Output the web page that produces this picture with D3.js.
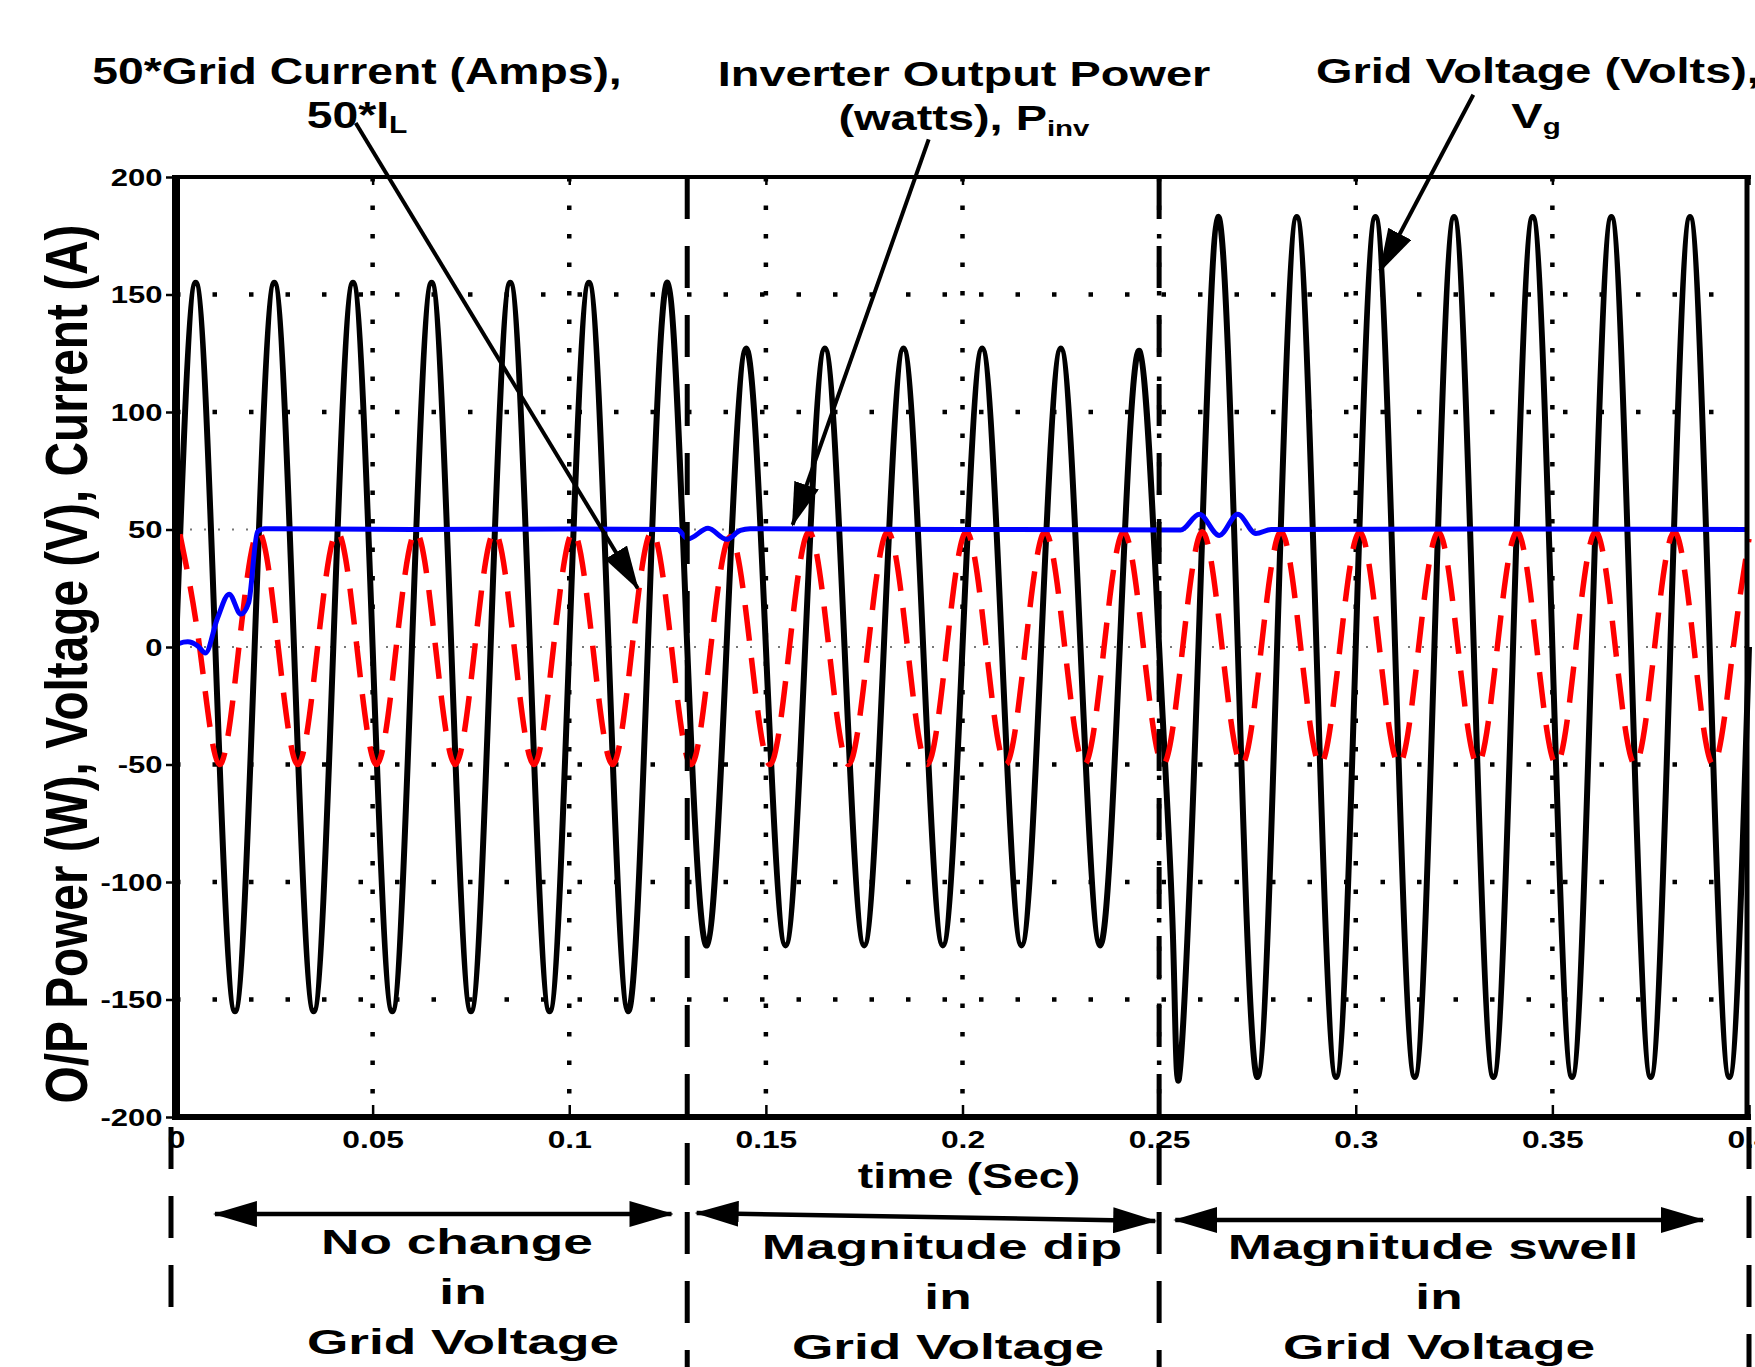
<!DOCTYPE html>
<html lang="en">
<head>
<meta charset="utf-8">
<script src="https://d3js.org/d3.v7.min.js"></script>
<style>
  *{margin:0;padding:0}
  body{background:#fff;width:1755px;height:1367px;overflow:hidden}
  svg{display:block;font-family:"Liberation Sans",Arial,sans-serif;font-weight:bold}
</style>
</head>
<body>
<script>
// axis ticks
const timeTicks=[0,0.05,0.1,0.15,0.2,0.25,0.3,0.35,0.4];
const valueTicks=[-200,-150,-100,-50,0,50,100,150,200];

// instants where the grid voltage changes (and the plot edges)
const eventTimes=[0,0.13,0.25,0.4];
const regionLabels=[
  ["No change","in","Grid Voltage"],
  ["Magnitude dip","in","Grid Voltage"],
  ["Magnitude swell","in","Grid Voltage"]
];

// grid voltage Vg (V) : [time s, value]  -- peaks, zero crossings, troughs
const gridVoltage=[
  [0,0],[0.005,155],[0.01,0],[0.015,-155],[0.02,0],[0.025,155],[0.03,0],[0.035,-155],
  [0.04,0],[0.045,155],[0.05,0],[0.055,-155],[0.06,0],[0.065,155],[0.07,0],[0.075,-155],
  [0.08,0],[0.085,155],[0.09,0],[0.095,-155],[0.1,0],[0.105,155],[0.11,0],[0.115,-155],
  [0.12,0],[0.125,155],
  [0.13,0],[0.135,-127],[0.14,0],[0.145,127],[0.15,0],[0.155,-127],[0.16,0],[0.165,127],
  [0.17,0],[0.175,-127],[0.18,0],[0.185,127],[0.19,0],[0.195,-127],[0.2,0],[0.205,127],
  [0.21,0],[0.215,-127],[0.22,0],[0.225,127],[0.23,0],[0.235,-127],[0.24,0],[0.245,126],
  [0.25,0],[0.2535,-122],[0.2553,-180],[0.26,0],[0.265,183],[0.27,0],[0.275,-183],
  [0.28,0],[0.285,183],[0.29,0],[0.295,-183],[0.3,0],[0.305,183],[0.31,0],[0.315,-183],
  [0.32,0],[0.325,183],[0.33,0],[0.335,-183],[0.34,0],[0.345,183],[0.35,0],[0.355,-183],
  [0.36,0],[0.365,183],[0.37,0],[0.375,-183],[0.38,0],[0.385,183],[0.39,0],[0.395,-183],
  [0.4,0]
];

// 50*grid current (A)
const currentStart=[[0,0],[0,46],[0.001,48]];
const gridCurrent50=[
  [0.001,48],[0.006,0],[0.011,-50],[0.016,0],[0.021,49],[0.026,0],[0.031,-50],[0.036,0],
  [0.041,49],[0.046,0],[0.051,-50],[0.056,0],[0.061,49],[0.066,0],[0.071,-50],[0.076,0],
  [0.081,49],[0.086,0],[0.091,-50],[0.096,0],[0.101,49],[0.106,0],[0.111,-50],[0.116,0],
  [0.121,49],[0.126,0],[0.131,-50],[0.136,0],[0.141,47],[0.146,0],[0.151,-50],[0.156,0],
  [0.161,49],[0.166,0],[0.171,-50],[0.176,0],[0.181,49],[0.186,0],[0.191,-50],[0.196,0],
  [0.201,49],[0.206,0],[0.211,-50],[0.216,0],[0.221,49],[0.226,0],[0.231,-50],[0.236,0],
  [0.241,49],[0.246,0],[0.251,-50],[0.256,0],[0.261,49],[0.266,0],[0.271,-50],[0.276,0],
  [0.281,49],[0.286,0],[0.291,-50],[0.296,0],[0.301,49],[0.306,0],[0.311,-50],[0.316,0],
  [0.321,49],[0.326,0],[0.331,-50],[0.336,0],[0.341,49],[0.346,0],[0.351,-50],[0.356,0],
  [0.361,49],[0.366,0],[0.371,-50],[0.376,0],[0.381,49],[0.386,0],[0.391,-50],[0.396,0],
  [0.4,46]
];

// inverter output power (W)
const inverterPower=[
  [0,0],[0.0008,1.5],[0.003,2.2],[0.0055,0.5],[0.0075,-2.5],[0.0105,12],[0.0135,22.5],
  [0.0165,14],[0.0185,19],[0.0207,49],[0.0225,50.3],[0.06,50],[0.1,50.2],[0.1275,50],
  [0.1302,46],[0.1353,50.5],[0.14,45.8],[0.1435,49.6],[0.146,50.3],[0.2,50],[0.2555,49.8],
  [0.2602,56.5],[0.2653,47.5],[0.27,56.5],[0.2746,48.3],[0.2785,50],[0.33,50.2],[0.4,50]
];

// callout arrows, in data units: [from, to]
const callouts=[
  [[0.0457,223],[0.1174,25]],
  [[0.1914,216],[0.1568,52]],
  [[0.3299,235],[0.3062,160]]
];

const width=1755, height=1367;
const margin={top:177,right:6,bottom:250,left:176};

const x=d3.scaleLinear().domain([0,0.4]).range([margin.left,width-margin.right]);
const y=d3.scaleLinear().domain([-200,200]).range([height-margin.bottom,margin.top]);

const svg=d3.select('body').append('svg')
  .attr('width',width).attr('height',height);

svg.append('defs').append('marker')
  .attr('id','head')
  .attr('markerUnits','userSpaceOnUse')
  .attr('viewBox','0 0 44 26')
  .attr('markerWidth',44).attr('markerHeight',26)
  .attr('refX',42).attr('refY',13)
  .attr('orient','auto-start-reverse')
  .append('path').attr('d','M0,0L44,13L0,26Z').attr('fill','#000');

// dotted grid
const grid=svg.append('g');
grid.selectAll('line.h')
  .data(valueTicks.filter(v=>v>-200&&v<200))
  .join('line').attr('class','h')
  .attr('x1',x(0)).attr('x2',x(0.4))
  .attr('y1',d=>y(d)).attr('y2',d=>y(d))
  .attr('stroke',d=>(d===0||d===50)?'#777':'#000')
  .attr('stroke-width',d=>(d===0||d===50)?2:4.5)
  .attr('stroke-dasharray',d=>(d===0||d===50)?'2,12':'4.5,32');
grid.selectAll('line.v')
  .data(timeTicks.filter(t=>t>0&&t<0.4))
  .join('line').attr('class','v')
  .attr('x1',d=>x(d)).attr('x2',d=>x(d))
  .attr('y1',y(200)).attr('y2',y(-200))
  .attr('stroke','#000').attr('stroke-width',4.5)
  .attr('stroke-dasharray','4.5,24');

const line=d3.line().x(d=>x(d[0])).y(d=>y(d[1]));

svg.append('path').datum(gridVoltage)
  .attr('d',line.curve(d3.curveNatural))
  .attr('fill','none').attr('stroke','#000').attr('stroke-width',6);

svg.append('path').datum(currentStart)
  .attr('d',line.curve(d3.curveLinear))
  .attr('fill','none').attr('stroke','#ff0000').attr('stroke-width',5.5)
  .attr('stroke-dasharray','36,17');
svg.append('path').datum(gridCurrent50)
  .attr('d',line.curve(d3.curveNatural))
  .attr('fill','none').attr('stroke','#ff0000').attr('stroke-width',5.5)
  .attr('stroke-dasharray','36,17');

svg.append('path').datum(inverterPower)
  .attr('d',line.curve(d3.curveMonotoneX))
  .attr('fill','none').attr('stroke','#0000ff').attr('stroke-width',5);

// dashed event lines
svg.selectAll('line.event')
  .data(eventTimes)
  .join('line').attr('class','event')
  .attr('x1',(d,i)=>i===0?x(d)-5:x(d)).attr('x2',(d,i)=>i===0?x(d)-5:x(d))
  .attr('y1',(d,i)=>(i===0||i===3)?y(-200)+10:y(200))
  .attr('y2',(d,i)=>i===0?1310:height)
  .attr('stroke','#000').attr('stroke-width',5)
  .attr('stroke-dasharray','42,27');

// plot box
const box=svg.append('g').attr('stroke','#000');
box.append('line').attr('x1',x(0)).attr('x2',x(0.4)+2).attr('y1',y(200)).attr('y2',y(200)).attr('stroke-width',4);
box.append('line').attr('x1',x(0)).attr('x2',x(0.4)+2).attr('y1',y(-200)).attr('y2',y(-200)).attr('stroke-width',6);
box.append('line').attr('x1',x(0)).attr('x2',x(0)).attr('y1',y(200)-2).attr('y2',y(-200)+3).attr('stroke-width',8);
box.append('line').attr('x1',x(0.4)-2).attr('x2',x(0.4)-2).attr('y1',y(200)-2).attr('y2',y(-200)+3).attr('stroke-width',5);

// axes
const styleAxis=g=>g.attr('font-family','"Liberation Sans",Arial,sans-serif')
  .attr('font-size',23).attr('font-weight','bold')
  .call(g=>g.select('.domain').remove())
  .call(g=>g.selectAll('line').attr('stroke','#000').attr('stroke-width',2.5));

svg.append('g')
  .attr('transform',`translate(0,${y(-200)})`)
  .call(d3.axisBottom(x).tickValues(timeTicks).tickFormat(d=>String(d)).tickSizeInner(-12).tickSizeOuter(0))
  .call(styleAxis)
  .call(g=>g.selectAll('text').attr('y',31).attr('dy',null).attr('fill','#000').attr('transform','scale(1.38,1)'));

svg.append('g')
  .attr('transform',`translate(0,${y(200)})`)
  .call(d3.axisTop(x).tickValues(timeTicks).tickFormat('').tickSizeInner(-8).tickSizeOuter(0))
  .call(styleAxis);

svg.append('g')
  .attr('transform',`translate(${x(0)},0)`)
  .call(d3.axisLeft(y).tickValues(valueTicks).tickFormat(d=>String(d)).tickSizeInner(10).tickSizeOuter(0))
  .call(styleAxis)
  .call(g=>g.selectAll('text').attr('x',-10).attr('dy','0.35em').attr('fill','#000').attr('transform','scale(1.35,1)'));

// stretched text helper
function label(cx,by,parts,size,sx){
  const t=svg.append('text')
    .attr('transform',`translate(${cx},${by}) scale(${sx},1)`)
    .attr('text-anchor','middle')
    .attr('font-size',size);
  parts.forEach(p=>{
    if(typeof p==='string') t.append('tspan').text(p);
    else t.append('tspan').attr('font-size',p.size).attr('dy',p.dy).text(p.text);
  });
  return t;
}

// axis titles
svg.append('text')
  .attr('transform','translate(87,664) scale(1.27,1) rotate(-90)')
  .attr('text-anchor','middle').attr('font-size',46)
  .attr('textLength',879).attr('lengthAdjust','spacingAndGlyphs')
  .text('O/P Power (W), Voltage (V), Current (A)');
label(969,1188,['time (Sec)'],35,1.33);

// callout labels
label(357,84,['50*Grid Current (Amps),'],37,1.25);
label(357,128,['50*I',{text:'L',size:24,dy:5}],37,1.25);
label(964,86,['Inverter Output Power'],35,1.34);
label(964,130,['(watts), P',{text:'inv',size:22,dy:6}],35,1.34);
label(1538,83,['Grid Voltage (Volts),'],35,1.34);
label(1536,128,['V',{text:'g',size:22,dy:6}],35,1.34);

svg.selectAll('line.callout')
  .data(callouts)
  .join('line').attr('class','callout')
  .attr('x1',d=>x(d[0][0])).attr('y1',d=>y(d[0][1]))
  .attr('x2',d=>x(d[1][0])).attr('y2',d=>y(d[1][1]))
  .attr('stroke','#000').attr('stroke-width',4)
  .attr('marker-end','url(#head)');

// region arrows and labels under the axis
const arrowY=[[1214,1214],[1213,1221],[1220,1220]];
const arrowPad=[[0.0099,0.126],[0.1324,0.249],[0.2541,0.3883]];
svg.selectAll('line.span')
  .data(arrowPad)
  .join('line').attr('class','span')
  .attr('x1',d=>x(d[0])).attr('x2',d=>x(d[1]))
  .attr('y1',(d,i)=>arrowY[i][0]).attr('y2',(d,i)=>arrowY[i][1])
  .attr('stroke','#000').attr('stroke-width',4.5)
  .attr('marker-start','url(#head)').attr('marker-end','url(#head)');

const regionCenters=[457,942,1433];
regionLabels.forEach((lines,i)=>{
  lines.forEach((s,j)=>{
    const cx=regionCenters[i]+(j>0?6:0);
    label(cx,[1254,1259,1259][i]+j*50,[s],35,1.52);
  });
});
</script>
</body>
</html>
